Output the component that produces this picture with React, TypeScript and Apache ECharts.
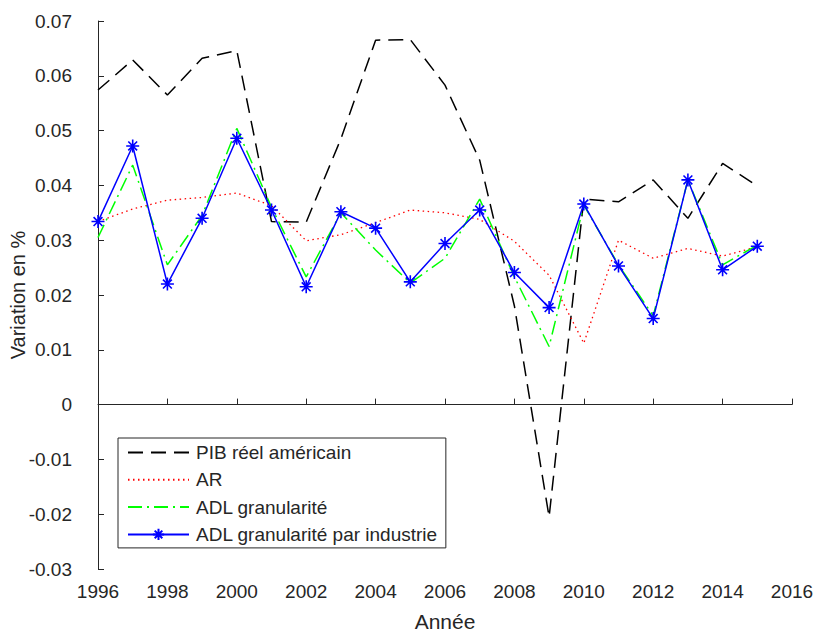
import React, { useEffect, useRef } from "react";
import * as echarts from "echarts";

const years = [1996, 1997, 1998, 1999, 2000, 2001, 2002, 2003, 2004, 2005, 2006, 2007, 2008, 2009, 2010, 2011, 2012, 2013, 2014, 2015];
const pib = [0.0574, 0.0629, 0.0565, 0.0632, 0.0646, 0.0334, 0.0333, 0.0485, 0.0665, 0.0666, 0.0583, 0.0446, 0.018, -0.0205, 0.0375, 0.037, 0.041, 0.034, 0.044, 0.0399];
const ar = [0.0334, 0.0357, 0.0373, 0.0378, 0.0386, 0.0363, 0.0299, 0.031, 0.0332, 0.0355, 0.035, 0.0338, 0.0298, 0.0236, 0.0112, 0.03, 0.0267, 0.0285, 0.0271, 0.0288];
const adl = [0.0305, 0.0437, 0.0255, 0.0345, 0.0504, 0.036, 0.0233, 0.035, 0.0282, 0.0222, 0.0267, 0.0375, 0.0233, 0.0106, 0.0364, 0.0255, 0.0162, 0.041, 0.0255, 0.0291];
const adlInd = [0.0334, 0.0472, 0.022, 0.034, 0.0486, 0.0355, 0.0215, 0.0352, 0.0322, 0.0224, 0.0294, 0.0355, 0.0241, 0.0177, 0.0366, 0.0253, 0.0157, 0.041, 0.0246, 0.0289];
const seriesNames = ["PIB réel américain", "AR", "ADL granularité", "ADL granularité par industrie"];

const FONT = "'Liberation Sans', Arial, Helvetica, sans-serif";
const TXT = "#262626";
const ASTERISK = "path://M0 5L10 5M5 0L5 10M1.6 1.6L8.4 8.4M8.4 1.6L1.6 8.4";

const pairs = (vals: number[]) => years.map((y, i) => [y, vals[i]]);

export default function App() {
  const ref = useRef<HTMLDivElement>(null);
  useEffect(() => {
    const chart = echarts.init(ref.current!, null, { renderer: "svg" });
    chart.setOption({
      animation: false,
      backgroundColor: "#ffffff",
      grid: { left: 98, right: 28, top: 21, bottom: 66, containLabel: false, outerBoundsMode: "none" },
      xAxis: {
        type: "value",
        min: 1996,
        max: 2016,
        interval: 2,
        name: "Année",
        nameLocation: "middle",
        nameGap: 42,
        nameMoveOverlap: false,
        nameTextStyle: { color: TXT, fontSize: 21, fontFamily: FONT },
        axisLine: { show: true, lineStyle: { color: TXT, width: 1 } },
        axisTick: { show: true, inside: true, length: 6, lineStyle: { color: TXT } },
        axisLabel: { color: TXT, fontSize: 19, fontFamily: FONT, margin: 13, formatter: (v: number) => String(v) },
        splitLine: { show: false },
      },
      yAxis: {
        type: "value",
        min: -0.03,
        max: 0.07,
        interval: 0.01,
        name: "Variation en %",
        nameLocation: "middle",
        nameGap: 70,
        nameMoveOverlap: false,
        nameRotate: 90,
        nameTextStyle: { color: TXT, fontSize: 20, fontFamily: FONT },
        axisLine: { show: true, lineStyle: { color: TXT, width: 1 } },
        axisTick: { show: true, inside: true, length: 6, lineStyle: { color: TXT } },
        axisLabel: {
          color: TXT,
          fontSize: 19,
          fontFamily: FONT,
          margin: 26,
          formatter: (v: number) => {
            const r = Math.round(v * 100) / 100;
            return r === 0 ? "0" : String(r);
          },
        },
        splitLine: { show: false },
      },
      legend: {
        orient: "vertical",
        left: 118,
        top: 438,
        padding: [5, 8, 4, 9],
        itemGap: 8.3,
        itemWidth: 61,
        itemHeight: 14,
        backgroundColor: "#ffffff",
        borderColor: TXT,
        borderWidth: 1,
        borderRadius: 0,
        textStyle: { color: TXT, fontSize: 19, fontFamily: FONT, padding: [0, 0, 0, 2] },
        data: [
          { name: seriesNames[0], itemStyle: { opacity: 0 } },
          { name: seriesNames[1], itemStyle: { opacity: 0 } },
          { name: seriesNames[2], itemStyle: { opacity: 0 } },
          { name: seriesNames[3] },
        ],
      },
      series: [
        {
          name: seriesNames[0],
          type: "line",
          data: pairs(pib),
          symbol: "none",
          color: "#000000",
          lineStyle: { color: "#000000", width: 1.5, type: [15, 8] },
        },
        {
          name: seriesNames[1],
          type: "line",
          data: pairs(ar),
          symbol: "none",
          color: "#ff0000",
          lineStyle: { color: "#ff0000", width: 1.3, type: [1.5, 3.5] },
        },
        {
          name: seriesNames[2],
          type: "line",
          data: pairs(adl),
          symbol: "none",
          color: "#00ff00",
          lineStyle: { color: "#00ff00", width: 1.5, type: [14, 5, 2, 5] },
        },
        {
          name: seriesNames[3],
          type: "line",
          data: pairs(adlInd),
          symbol: ASTERISK,
          symbolSize: 13,
          showSymbol: true,
          clip: false,
          color: "#0000ff",
          itemStyle: { color: "rgba(0,0,0,0)", borderColor: "#0000ff", borderWidth: 1.6 },
          lineStyle: { color: "#0000ff", width: 1.5 },
        },
      ],
    });
    return () => chart.dispose();
  }, []);
  return <div ref={ref} style={{ position: "fixed", left: 0, top: 0, width: 820, height: 635 }} />;
}
